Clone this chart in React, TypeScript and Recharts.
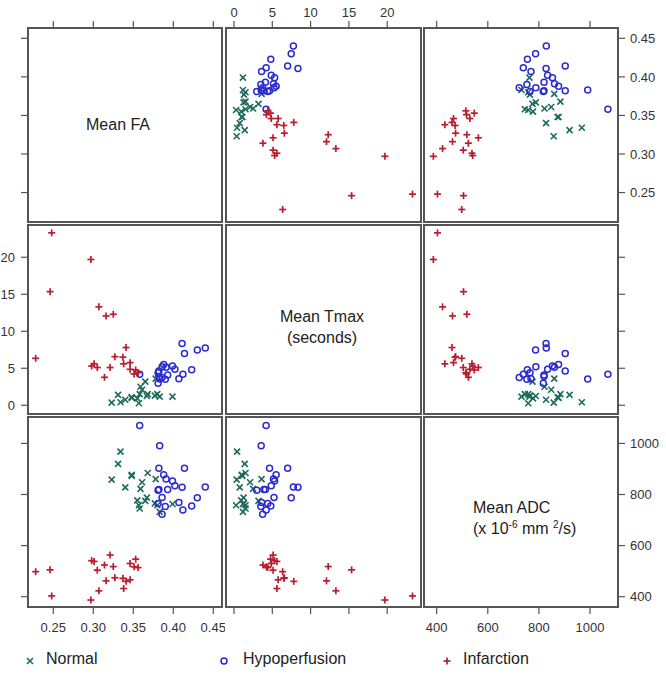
import { ReferenceArea, Scatter, ScatterChart, XAxis, YAxis } from "recharts";

const normalFA = [0.323, 0.331, 0.334, 0.34, 0.348, 0.348, 0.355, 0.357, 0.358, 0.359, 0.361, 0.365, 0.367, 0.368, 0.377, 0.378, 0.38, 0.383, 0.399];
const normalTmax = [0.35, 1.4, 0.4, 0.75, 1.0, 1.1, 0.94, 0.27, 1.5, 2.5, 2.1, 3.2, 1.25, 1.5, 1.3, 3.6, 1.5, 1.17, 1.17];
const normalADC = [858, 920, 968, 828, 877, 873, 777, 758, 745, 822, 848, 775, 788, 884, 765, 860, 758, 732, 763];

const hypoFA = [0.358, 0.386, 0.381, 0.381, 0.382, 0.382, 0.383, 0.386, 0.39, 0.388, 0.391, 0.393, 0.399, 0.402, 0.407, 0.411, 0.412, 0.414, 0.423, 0.43, 0.44];
const hypoTmax = [4.19, 3.74, 4.4, 2.97, 3.9, 4.64, 3.55, 5.22, 3.5, 5.5, 5.15, 4.1, 5.3, 4.86, 3.6, 8.35, 4.2, 7.0, 4.8, 7.47, 7.75];
const hypoADC = [1070, 723, 765, 817, 820, 903, 991, 788, 753, 877, 861, 820, 853, 834, 769, 828, 739, 903, 755, 787, 829];

const infarctFA = [0.228, 0.246, 0.248, 0.297, 0.298, 0.301, 0.305, 0.307, 0.314, 0.316, 0.321, 0.325, 0.327, 0.337, 0.338, 0.341, 0.346, 0.346, 0.351, 0.353, 0.356];
const infarctTmax = [6.35, 15.35, 23.3, 19.7, 5.3, 5.6, 5.1, 13.3, 3.78, 12.07, 5.1, 12.3, 6.57, 6.5, 5.6, 7.8, 5.76, 4.86, 4.23, 4.77, 4.4];
const infarctADC = [498, 505, 403, 387, 541, 538, 504, 423, 524, 462, 563, 518, 474, 472, 432, 460, 466, 530, 517, 547, 514];

const faTicks = [0.25, 0.3, 0.35, 0.4, 0.45];
const tmaxTicks = [0, 5, 10, 15, 20];
const adcTicks = [400, 600, 800, 1000];

type Var = "fa" | "tmax" | "adc";
const VARS: Var[] = ["fa", "tmax", "adc"];

const TICKS: Record<Var, number[]> = { fa: faTicks, tmax: tmaxTicks, adc: adcTicks };
const FMT: Record<Var, (v: number) => string> = {
  fa: (v) => v.toFixed(2),
  tmax: (v) => String(v),
  adc: (v) => String(v),
};
const DOM_X: Record<Var, [number, number]> = { fa: [0.2184, 0.4609], tmax: [-1.044, 24.41], adc: [350.4, 1109.5] };
const DOM_Y: Record<Var, [number, number]> = { fa: [0.2118, 0.4634], tmax: [-1.18, 24.36], adc: [359.7, 1103.3] };

// panel boxes on the page: [left, width] and [top, height]
const COLS = [[28, 194], [226, 195], [424, 194]];
const ROWS = [[28, 194], [225, 189], [417, 190]];

const GREEN = "#1f6b5c";
const BLUE = "#2b2bd0";
const RED = "#b81e2e";
const BORDER = "#555";

const groups = [
  { name: "Normal", color: GREEN, mark: "x", fa: normalFA, tmax: normalTmax, adc: normalADC },
  { name: "Hypoperfusion", color: BLUE, mark: "o", fa: hypoFA, tmax: hypoTmax, adc: hypoADC },
  { name: "Infarction", color: RED, mark: "+", fa: infarctFA, tmax: infarctTmax, adc: infarctADC },
];

function Mark({ cx, cy, mark, color }: { cx: number; cy: number; mark: string; color: string }) {
  if (cx == null || cy == null) return null;
  if (mark === "o") return <circle cx={cx} cy={cy} r={3} fill="none" stroke={color} strokeWidth={1.5} />;
  const s = mark === "x" ? 3 : 3.5;
  if (mark === "x")
    return (
      <g stroke={color} strokeWidth={1.6}>
        <line x1={cx - s} y1={cy - s} x2={cx + s} y2={cy + s} />
        <line x1={cx - s} y1={cy + s} x2={cx + s} y2={cy - s} />
      </g>
    );
  return (
    <g stroke={color} strokeWidth={1.7}>
      <line x1={cx - s} y1={cy} x2={cx + s} y2={cy} />
      <line x1={cx} y1={cy - s} x2={cx} y2={cy + s} />
    </g>
  );
}

const M = 3;
const AX = 32;
const AY = 48;

function Panel({ r, c }: { r: number; c: number }) {
  const xv = VARS[c];
  const yv = VARS[r];
  const xSide = r === 0 ? "top" : r === 2 ? "bottom" : null;
  const ySide = c === 0 ? "left" : c === 2 ? "right" : null;
  const xLab = r === 0 ? c === 1 : c !== 1;
  const yLab = c === 0 ? r === 1 : r !== 1;
  const [pl, pw] = COLS[c];
  const [pt, ph] = ROWS[r];
  const left = pl - M - (ySide === "left" ? AY : 0);
  const top = pt - M - (xSide === "top" ? AX : 0);
  const width = pw + 2 * M + (ySide ? AY : 0);
  const height = ph + 2 * M + (xSide ? AX : 0);
  const tick = { fill: "#333", fontSize: 13 };

  return (
    <div style={{ position: "absolute", left, top }}>
      <ScatterChart width={width} height={height} margin={{ top: M, right: M, bottom: M, left: M }}>
        <XAxis
          type="number"
          dataKey="x"
          domain={DOM_X[xv]}
          ticks={TICKS[xv]}
          allowDataOverflow
          interval={0}
          hide={!xSide}
          orientation={xSide === "top" ? "top" : "bottom"}
          height={AX}
          tickSize={7}
          tickMargin={xSide === "top" ? 4 : 9}
          axisLine={false}
          tickLine={{ stroke: BORDER, strokeWidth: 1.2 }}
          tick={tick}
          tickFormatter={xLab ? FMT[xv] : () => ""}
        />
        <YAxis
          type="number"
          dataKey="y"
          domain={DOM_Y[yv]}
          ticks={TICKS[yv]}
          allowDataOverflow
          interval={0}
          hide={!ySide}
          orientation={ySide === "right" ? "right" : "left"}
          width={AY}
          tickSize={7}
          tickMargin={ySide === "left" ? 6 : 5}
          axisLine={false}
          tickLine={{ stroke: BORDER, strokeWidth: 1.2 }}
          tick={tick}
          tickFormatter={yLab ? FMT[yv] : () => ""}
        />
        <ReferenceArea
          x1={DOM_X[xv][0]}
          x2={DOM_X[xv][1]}
          y1={DOM_Y[yv][0]}
          y2={DOM_Y[yv][1]}
          fill="none"
          fillOpacity={0}
          stroke={BORDER}
          strokeWidth={2}
          ifOverflow="visible"
        />
        {r !== c &&
          groups.map((g) => (
            <Scatter
              key={g.name}
              name={g.name}
              data={g[xv].map((v, i) => ({ x: v, y: g[yv][i] }))}
              isAnimationActive={false}
              shape={(p: any) => <Mark cx={p.cx} cy={p.cy} mark={g.mark} color={g.color} />}
            />
          ))}
      </ScatterChart>
    </div>
  );
}

const diagText: React.CSSProperties = { position: "absolute", fontSize: 16, color: "#222", lineHeight: "21px", whiteSpace: "nowrap" };

function LegendMark({ mark, color }: { mark: string; color: string }) {
  return (
    <svg width={12} height={12} style={{ position: "absolute", left: -6, top: -6 }}>
      <Mark cx={6} cy={6} mark={mark} color={color} />
    </svg>
  );
}

export default function App() {
  const legendPos = [
    { x: 30, tx: 46 },
    { x: 224, tx: 243 },
    { x: 447, tx: 463 },
  ];
  return (
    <div
      style={{
        position: "absolute",
        left: 0,
        top: 0,
        width: 666,
        height: 676,
        background: "#fff",
        fontFamily: "'Liberation Sans', Arial, sans-serif",
      }}
    >
      {[0, 1, 2].map((r) => [0, 1, 2].map((c) => <Panel key={`${r}-${c}`} r={r} c={c} />))}

      <div style={{ ...diagText, left: 86, top: 114 }}>Mean FA</div>
      <div style={{ ...diagText, left: 272, top: 306, width: 100, textAlign: "center" }}>
        Mean Tmax
        <br />
        (seconds)
      </div>
      <div style={{ ...diagText, left: 473, top: 497 }}>
        Mean ADC
        <br />
        (x 10<sup style={{ fontSize: 10, verticalAlign: "6px", lineHeight: 0 }}>-6</sup> mm{" "}
        <sup style={{ fontSize: 10, verticalAlign: "6px", lineHeight: 0 }}>2</sup>/s)
      </div>

      {groups.map((g, i) => (
        <div key={g.name}>
          <div style={{ position: "absolute", left: legendPos[i].x, top: 661 }}>
            <LegendMark mark={g.mark} color={g.color} />
          </div>
          <div style={{ position: "absolute", left: legendPos[i].tx, top: 650, fontSize: 16, color: "#222" }}>{g.name}</div>
        </div>
      ))}
    </div>
  );
}
